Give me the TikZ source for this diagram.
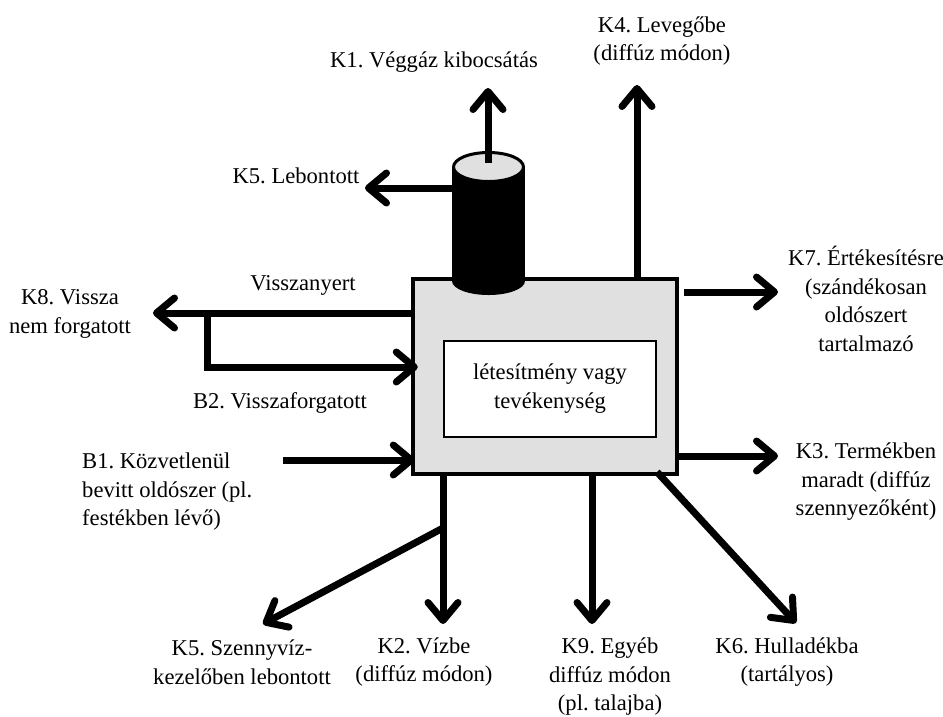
\documentclass[tikz,border=0pt]{standalone}
\usepackage{fontspec}
\setmainfont{Liberation Serif}
\usetikzlibrary{arrows.meta}
\definecolor{boxgray}{RGB}{224,224,224}
\begin{document}
\frenchspacing
\begin{tikzpicture}[x=1pt,y=-1pt,
  arr/.style={line width=7pt, -{Straight Barb[round,length=18pt,width=30pt]}},
  lbl/.style={align=center, font=\fontsize{22.6}{28.5}\selectfont, inner sep=0pt},
  mainbox/.style={draw, line width=4.5pt, fill=boxgray, minimum width=264pt, minimum height=195pt, inner sep=0pt},
  innerbox/.style={draw, line width=1.5pt, fill=white, minimum width=212pt, minimum height=96pt, inner sep=0pt, align=center, font=\fontsize{22.6}{31}\selectfont}]
\useasboundingbox (0,0) rectangle (943,716);
\fill[white] (0,0) rectangle (943,716);

% main box
\node[mainbox] (box) at (545,376.5) {};
\node[innerbox] (inner) at (550,389) {létesítmény vagy\\[-2pt]tevékenység};

% chimney (cylinder)
\fill[black] (452,167) rectangle (525,281);
\fill[black] (488.5,281) ellipse [x radius=36.5, y radius=14];
\draw[line width=3pt, fill=boxgray] (488.5,167) ellipse [x radius=35, y radius=14.5];
\coordinate (cyltop) at (488,163);
\coordinate (cylleft) at (452,188);

% free ends
\coordinate (k1tip) at (488,88);
\coordinate (k5tip) at (365,188);
\coordinate (k4tip) at (637,85);
\coordinate (k7tip) at (778,292);
\coordinate (k3tip) at (778,456);
\coordinate (k8tip) at (153,313);
\coordinate (b2turn) at (207,367);
\coordinate (b1start) at (283,460);
\coordinate (k2tip) at (443,624);
\coordinate (k2branch) at (443,528);
\coordinate (k5btip) at (263,624);
\coordinate (k9tip) at (592,624);
\coordinate (k6start) at (657,472);
\coordinate (k6tip) at (796,623);

% connectors
\draw[arr] (cyltop) -- (k1tip);
\draw[arr] (cylleft) -- (k5tip);
\draw[arr] (box.north -| k4tip) -- (k4tip);
\draw[arr] ([xshift=5pt]box.east |- k7tip) -- (k7tip);
\draw[arr] (box.east |- k3tip) -- (k3tip);
\draw[arr] (box.west |- k8tip) -- (k8tip);
\draw[arr] (b2turn |- k8tip) -- (b2turn) -- ([xshift=7pt]box.west |- b2turn);
\draw[arr] (b1start) -- ([xshift=4pt]box.west |- b1start);
\draw[arr] (box.south -| k2tip) -- (k2tip);
\draw[arr] (k2branch) -- (k5btip);
\draw[arr] (box.south -| k9tip) -- (k9tip);
\draw[arr] (k6start) -- (k6tip);

% labels
\node[lbl] (lk1) at (434,62) {K1. Véggáz kibocsátás};
\node[lbl] (lk4) at (662,41) {K4. Levegőbe\\(diffúz módon)};
\node[lbl] (lk5) at (296,176) {K5. Lebontott};
\node[lbl] (lvn) at (303,285) {Visszanyert};
\node[lbl] (lk8) at (70,314) {K8. Vissza\\nem forgatott};
\node[lbl] (lb2) at (280,403) {B2. Visszaforgatott};
\node[lbl, align=left, anchor=west] (lb1) at (82,492) {B1. Közvetlenül\\bevitt oldószer (pl.\\festékben lévő)};
\node[lbl] (lk7) at (866,299) {K7. Értékesítésre\\(szándékosan\\oldószert\\tartalmazó};
\node[lbl] (lk3) at (866,482) {K3. Termékben\\maradt (diffúz\\szennyezőként)};
\node[lbl] (lk5b) at (242,662) {K5. Szennyvíz-\\kezelőben lebontott};
\node[lbl] (lk2) at (424,662) {K2. Vízbe\\(diffúz módon)};
\node[lbl] (lk9) at (610,677) {K9. Egyéb\\diffúz módon\\(pl. talajba)};
\node[lbl] (lk6) at (787,662) {K6. Hulladékba\\(tartályos)};
\end{tikzpicture}
\end{document}
